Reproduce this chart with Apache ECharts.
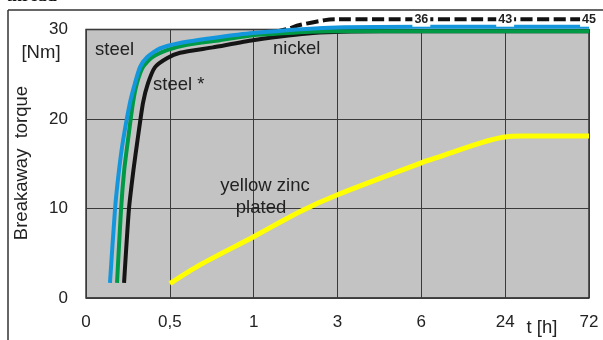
<!DOCTYPE html>
<html><head><meta charset="utf-8">
<script src="https://cdn.jsdelivr.net/npm/echarts@6/dist/echarts.min.js"></script>
<style>html,body{margin:0;padding:0;background:#fff}#c{width:603px;height:340px}</style>
</head><body><div id="c"></div>
<script>
// x-axis ticks (hours) and their labels
const tickHours = [0, 0.5, 1, 3, 6, 24, 72];
const tickLabels = ['0', '0,5', '1', '3', '6', '24', '72'];

// steel (blue)
const steelT  = [0.143, 0.173, 0.197, 0.221, 0.262, 0.292, 0.322, 0.364, 0.441, 0.561, 0.757, 0.996, 2.82, 6, 24, 72];
const steelNm = [1.7, 9.9, 14.3, 17.6, 21.8, 24.0, 25.8, 26.9, 27.9, 28.5, 29.05, 29.6, 30.2, 30.3, 30.3, 30.3];
// steel (green)
const steel2T  = [0.185, 0.209, 0.228, 0.25, 0.28, 0.304, 0.34, 0.394, 0.483, 0.602, 0.799, 1.08, 2.82, 6, 24, 72];
const steel2Nm = [1.7, 9.9, 14.3, 17.6, 21.8, 24.0, 25.8, 26.9, 27.7, 28.3, 28.8, 29.4, 29.8, 29.8, 29.8, 29.8];
// steel * (black)
const steelStarT  = [0.227, 0.256, 0.283, 0.307, 0.34, 0.37, 0.412, 0.483, 0.561, 0.757, 0.996, 2.42, 4.52, 24, 72];
const steelStarNm = [1.7, 9.9, 14.3, 17.6, 21.8, 24.0, 25.8, 26.8, 27.4, 28.0, 28.8, 29.6, 29.8, 29.8, 29.8];
// nickel (dashed, clipped at top; real values written as labels)
const nickelT  = [1.5, 1.8, 2.1, 2.7, 3, 6, 24, 72];
const nickelNm = [29.7, 30.05, 30.5, 31.05, 31.15, 31.15, 31.15, 31.15];
const nickelTags = ['', '', '', '', '', '36', '43', '45'];
// yellow zinc plated
const zincT  = [0.5, 0.68, 1, 2.1, 3, 6, 10, 18.6, 23.5, 34.2, 72];
const zincNm = [1.6, 3.7, 6.85, 9.64, 11.54, 15.1, 15.8, 17.3, 17.96, 18.1, 18.1];

function toPos(h) {
  for (let i = 1; i < tickHours.length; i++) {
    if (h <= tickHours[i]) {
      const a = tickHours[i - 1], b = tickHours[i];
      return i - 1 + (h - a) / (b - a);
    }
  }
  return tickHours.length - 1;
}
const pts = (T, V) => T.map((t, i) => [toPos(t), V[i]]);

const FONT = 'Liberation Sans, Arial, sans-serif';
const TXT = '#222';
const TF = '18.5px ' + FONT;

const chart = echarts.init(document.getElementById('c'), null, {renderer: 'canvas'});
chart.setOption({
  animation: false,
  backgroundColor: '#fff',
  grid: {left: 86, right: 14, top: 29.5, bottom: 42, show: true,
         backgroundColor: '#c3c3c3', borderColor: '#1e1e1e', borderWidth: 1.3},
  xAxis: {
    type: 'value', min: 0, max: tickHours.length - 1, interval: 1,
    axisLine: {show: false}, axisTick: {show: false},
    splitLine: {show: true, lineStyle: {color: '#3a3a3a', width: 1}},
    axisLabel: {margin: 16, fontSize: 17, fontFamily: FONT, color: TXT,
                formatter: v => tickLabels[Math.round(v)]}
  },
  yAxis: {
    type: 'value', min: 0, max: 30, interval: 10,
    axisLine: {show: false}, axisTick: {show: false},
    splitLine: {show: true, lineStyle: {color: '#3a3a3a', width: 1}},
    axisLabel: {margin: 18, fontSize: 17, fontFamily: FONT, color: TXT}
  },
  series: [
    {name: 'nickel', type: 'line', clip: false, symbol: 'circle', symbolSize: 1, showSymbol: true,
     itemStyle: {opacity: 0}, smooth: 0.3,
     lineStyle: {color: '#111', width: 4, type: [12, 4.5]},
     labelLayout: {hideOverlap: false},
     data: nickelT.map((t, i) => ({
       value: [toPos(t), nickelNm[i]],
       label: {show: nickelTags[i] !== '', formatter: nickelTags[i], position: 'inside',
               fontSize: 12.5, fontWeight: 'bold', fontFamily: FONT, color: TXT,
               backgroundColor: '#fff', padding: [1, 2], opacity: 1}
     }))},
    {name: 'steel *', type: 'line', clip: false, symbol: 'none', smooth: 0.2,
     lineStyle: {color: '#151515', width: 4}, data: pts(steelStarT, steelStarNm)},
    {name: 'steel', type: 'line', clip: false, symbol: 'none', smooth: 0.2,
     lineStyle: {color: '#009a46', width: 4}, data: pts(steel2T, steel2Nm)},
    {name: 'steel blue', type: 'line', clip: false, symbol: 'none', smooth: 0.2,
     lineStyle: {color: '#1496dc', width: 4}, data: pts(steelT, steelNm)},
    {name: 'yellow zinc plated', type: 'line', clip: false, symbol: 'none', smooth: 0.3,
     lineStyle: {color: '#ffff00', width: 5}, data: pts(zincT, zincNm)}
  ],
  graphic: [
    {type: 'line', shape: {x1: 8, y1: 10, x2: 603, y2: 10}, style: {stroke: '#333', lineWidth: 1.5}},
    {type: 'line', shape: {x1: 8, y1: 10, x2: 8, y2: 340}, style: {stroke: '#333', lineWidth: 1.5}},
    {type: 'text', style: {text: 'thread', x: 6, y: 5, font: 'bold 18px Liberation Serif', fill: '#111', textVerticalAlign: 'bottom'}},
    {type: 'text', style: {text: '[Nm]', x: 41, y: 53, font: TF, fill: TXT, textAlign: 'center', textVerticalAlign: 'middle'}},
    {type: 'text', x: 22, y: 163, rotation: Math.PI / 2,
     style: {text: 'Breakaway  torque', x: 0, y: 0, font: TF, fill: TXT, textAlign: 'center', textVerticalAlign: 'middle'}},
    {type: 'text', style: {text: 't [h]', x: 542, y: 328, font: TF, fill: TXT, textAlign: 'center', textVerticalAlign: 'middle'}},
    {type: 'text', z: 10, style: {text: 'steel', x: 95, y: 50, font: TF, fill: TXT, textVerticalAlign: 'middle'}},
    {type: 'text', z: 10, style: {text: 'steel *', x: 153, y: 85, font: TF, fill: TXT, textVerticalAlign: 'middle'}},
    {type: 'text', z: 10, style: {text: 'nickel', x: 273, y: 48.5, font: TF, fill: TXT, textVerticalAlign: 'middle'}},
    {type: 'text', z: 10, style: {text: 'yellow zinc', x: 265, y: 185.5, font: TF, fill: TXT, textAlign: 'center', textVerticalAlign: 'middle'}},
    {type: 'text', z: 10, style: {text: 'plated', x: 261, y: 207.5, font: TF, fill: TXT, textAlign: 'center', textVerticalAlign: 'middle'}}
  ]
});
</script></body></html>
